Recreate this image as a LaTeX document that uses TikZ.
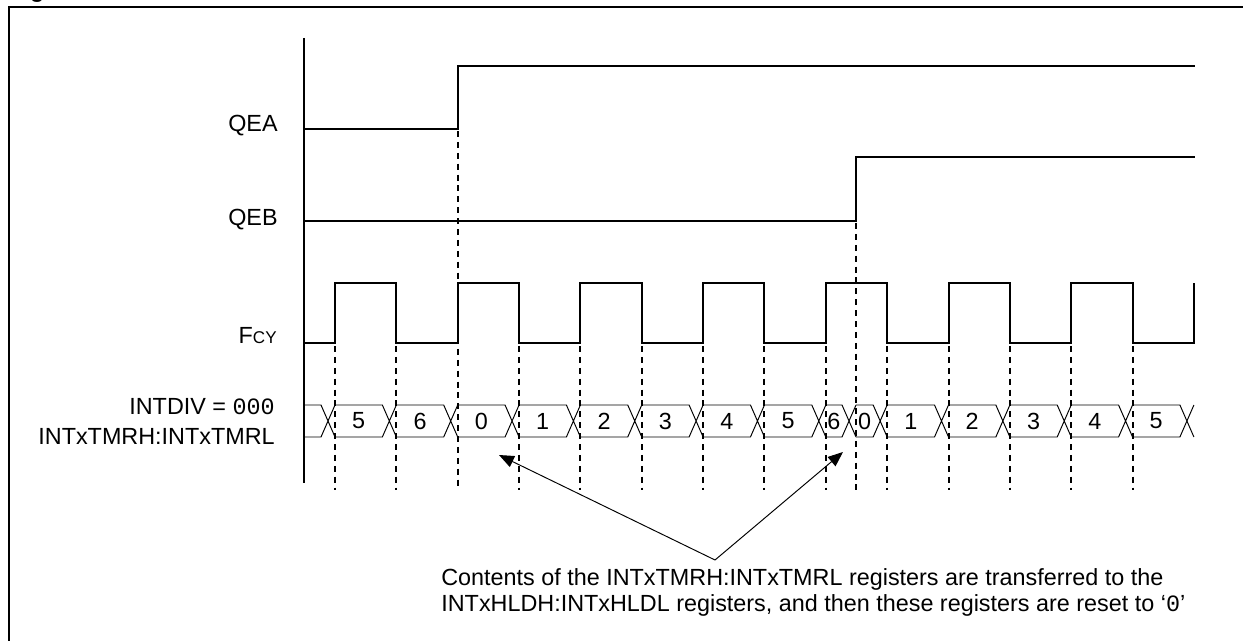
\documentclass[tikz,border=0pt]{standalone}
\usepackage{fontspec}
\setmainfont{Liberation Sans}
\newfontfamily\monofont{Liberation Mono}
\usetikzlibrary{arrows.meta}

\begin{document}
\begin{tikzpicture}[x=0.02cm, y=-0.02cm,
    font=\fontsize{13.3}{17.1}\selectfont,
    wave/.style={line width=1.15pt},
    bus/.style={line width=0.55pt},
    edgemark/.style={line width=1.15pt, dash pattern=on 3.4pt off 2.8pt},
    pointer/.style={line width=0.55pt, -{Triangle[length=0.3cm, width=0.24cm]}},
    siglabel/.style={anchor=east, inner sep=0pt, align=right}]

  % Page is 1243 x 641 px, one unit = one pixel, y runs downward
  \useasboundingbox (0,0) rectangle (1243,641);
  \clip (0,0) rectangle (1243,641);

  % Figure title, cut off by the page edge (only the descender shows)
  \node[anchor=base west, inner sep=0pt, font=\fontsize{13.3}{16}\selectfont\bfseries]
    (title) at (9,-2) {Figure};

  % Figure frame (open to the right and bottom)
  \draw[line width=1.15pt] (9,660) -- (9,7) -- (1260,7);

  % Time axis
  \draw[wave] (304,38) -- (304,483);

  % QEA and QEB
  \draw[wave] (304,129) -- (457.7,129) -- (457.7,66) -- (1195,66);
  \draw[wave] (304,221) -- (856,221) -- (856,157) -- (1195,157);

  % FCY: one edge every 61.35 px, first rising edge at 335
  \draw[wave] (304,343) \foreach \k in {0,...,6} {
      -- ({335+122.7*\k},343) -- ({335+122.7*\k},283)
      -- ({396.35+122.7*\k},283) -- ({396.35+122.7*\k},343) }
    -- (1193.9,343) -- (1193.9,283);

  % Dashed edge markers
  \foreach \k in {0,1,3,4,...,13} {
    \draw[edgemark] ({335+61.35*\k},346) -- ({335+61.35*\k},490);
  }
  \draw[edgemark] (457.7,131) -- (457.7,490); % QEA edge
  \draw[edgemark] (856,223) -- (856,490);     % QEB edge

  % Counter bus: segment from \a, crossing ends at \b
  \foreach \a/\b/\v [count=\i] in {304/335/{}, 335/396.35/5, 396.35/457.7/6,
      457.7/519.05/0, 519.05/580.4/1, 580.4/641.75/2, 641.75/703.1/3,
      703.1/764.45/4, 764.45/825.8/5, 825.8/856/6, 856/887.15/0,
      887.15/948.5/1, 948.5/1009.85/2, 1009.85/1071.2/3, 1071.2/1132.55/4,
      1132.55/1193.9/5} {
    \draw[bus] (\a,405) -- ({\b-14},405) -- (\b,437)
               (\a,437) -- ({\b-14},437) -- (\b,405);
    \node[inner sep=0pt] (cnt\i) at ({(\a+\b-14)/2},421) {\v};
  }

  % Signal names
  \node[siglabel] (qea) at (278,126) {QEA};
  \node[siglabel] (qeb) at (278,220) {QEB};
  \node[siglabel] (fcy) at (277,336) {F{\fontsize{9.7}{9.7}\selectfont CY}};
  \node[siglabel] (tmr) at (275,421.5) {INTDIV = {\monofont 000}\\INTxTMRH:INTxTMRL};

  % Note and pointers
  \node[anchor=north west, inner sep=0pt, align=left,
        font=\fontsize{13.3}{14.8}\selectfont] (note) at (441,568)
    {Contents of the INTxTMRH:INTxTMRL registers are transferred to the\\
     INTxHLDH:INTxHLDL registers, and then these registers are reset to ‘{\monofont 0}’};
  \coordinate (fork) at (715,560);
  \coordinate (tip0) at (499,455);
  \coordinate (tip6) at (843,452);
  \draw[pointer] (fork) -- (tip0);
  \draw[pointer] (fork) -- (tip6);

\end{tikzpicture}
\end{document}
